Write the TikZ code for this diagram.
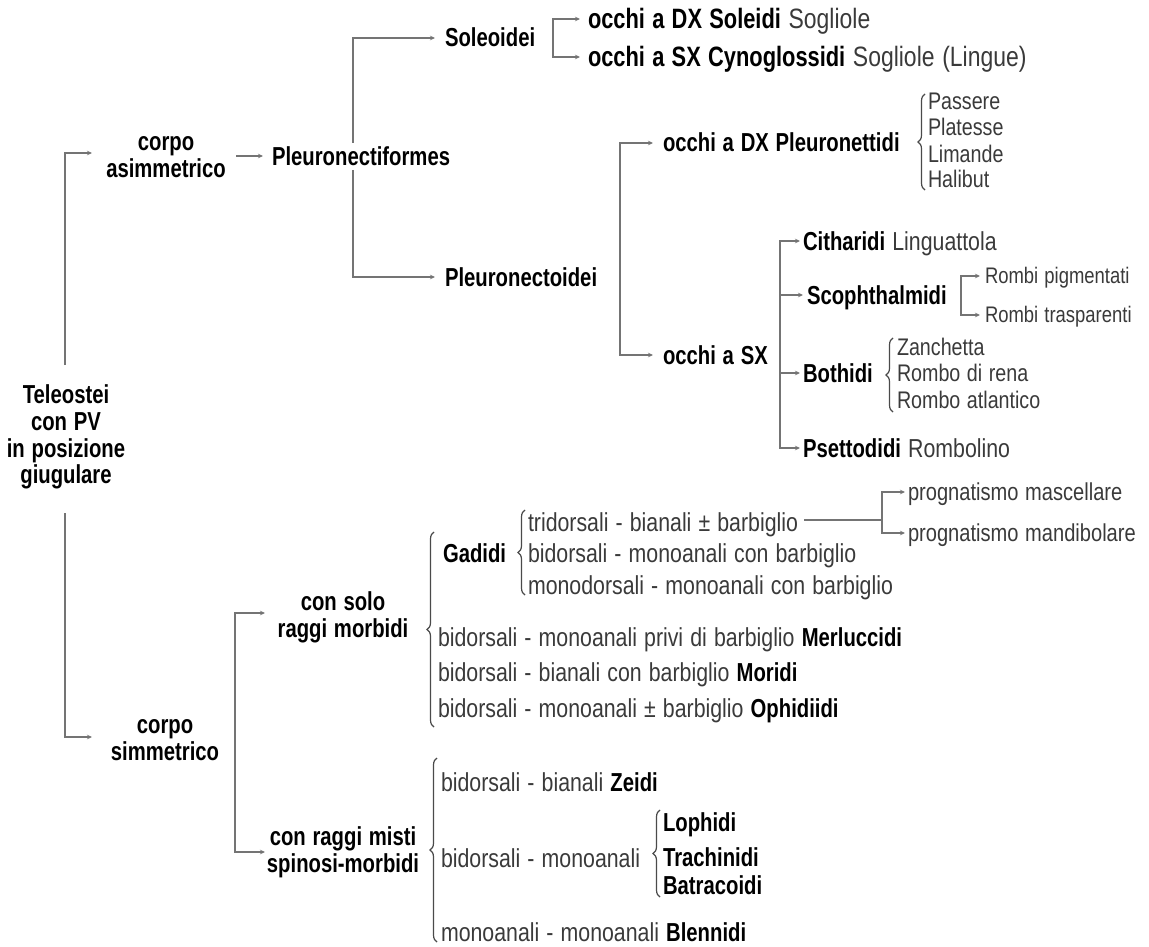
\documentclass[tikz,border=0pt]{standalone}
\usepackage{fontspec}
\setmainfont{Liberation Sans}[FakeStretch=0.82, WordSpace=1.2,
  BoldFeatures={FakeStretch=0.78}]
\usetikzlibrary{arrows.meta,decorations.pathreplacing}
\definecolor{linegray}{HTML}{747474}
\definecolor{bracegray}{HTML}{4A4A4A}
\definecolor{txtgray}{HTML}{3A3A3A}
\newcommand\taxon[1]{{\bfseries\color{black}#1}}
\begin{document}
\begin{tikzpicture}[x=1pt,y=-1pt,
  every node/.style={inner sep=0pt, outer sep=0pt},
  txt/.style={anchor=west, text height=18pt, text depth=0pt, text=txtgray,
              font=\fontsize{26}{28}\selectfont},
  big/.style={txt, text height=19pt, font=\fontsize{28}{30}\selectfont},
  mid/.style={txt, text height=17pt, font=\fontsize{24.5}{26}\selectfont},
  small/.style={txt, text height=16pt, font=\fontsize{24}{26}\selectfont},
  tiny/.style={txt, text height=15pt, font=\fontsize{22.5}{24}\selectfont},
  hd/.style={txt, text=black, font=\fontsize{26}{28}\selectfont\bfseries},
  blk/.style={align=center, text=black, font=\fontsize{26}{26.7}\selectfont\bfseries},
  link/.style={draw=linegray, line width=1.3pt, -{Stealth[length=5pt,width=4.5pt]}},
  bar/.style={draw=linegray, line width=1.3pt},
  curly/.style={draw=bracegray, line width=1.2pt, decorate,
                decoration={brace, amplitude=#1}},
  curly/.default=7pt,
]
\useasboundingbox (0,0) rectangle (1149,947);

% ---------- root ----------
\node[blk] (root) at (66,437) {Teleostei\\con PV\\in posizione\\giugulare};
\coordinate (rootUp) at (65,365);
\coordinate (rootDn) at (65,513);

% ---------- asymmetric body ----------
\node[blk] (asym) at (166,157) {corpo\\asimmetrico};
\coordinate (asymIn) at (92,153);
\draw[link] (rootUp) |- (asymIn);

\node[hd] (pf) at (272,156) {Pleuronectiformes};
\draw[link] (236,156) -- ([xshift=-9pt]pf.west);

\node[hd] (sol) at (445,38) {Soleoidei};
\node[hd] (pno) at (445,277) {Pleuronectoidei};
\coordinate (pfUp) at (353,143);
\coordinate (pfDn) at (353,170);
\draw[link] (pfUp) |- ([xshift=-10pt]sol.west);
\draw[link] (pfDn) |- ([xshift=-10pt]pno.west);

% Soleoidei
\node[big] (sdx) at (588,19) {\taxon{occhi a DX Soleidi} Sogliole};
\node[big] (ssx) at (588,57) {\taxon{occhi a SX Cynoglossidi} Sogliole (Lingue)};
\coordinate (solBr) at (553,38);
\draw[link] (solBr) |- ([xshift=-8pt]sdx.west);
\draw[link] (solBr) |- ([xshift=-8pt]ssx.west);

% Pleuronectoidei
\node[hd] (odx) at (663,143) {occhi a DX Pleuronettidi};
\node[hd] (osx) at (663,355) {occhi a SX};
\coordinate (pnoBr) at (620,250);
\draw[link] (pnoBr) |- ([xshift=-10pt]odx.west);
\draw[link] (pnoBr) |- ([xshift=-10pt]osx.west);

\draw[curly] (925,190) -- (925,94);
\node[small] (pas) at (928,102) {Passere};
\node[small] (pla) at (928,128) {Platesse};
\node[small] (lim) at (928,155) {Limande};
\node[small] (hal) at (928,180) {Halibut};

% occhi a SX
\node[txt] (cit) at (803,241) {\taxon{Citharidi} Linguattola};
\node[hd] (sco) at (807,295) {Scophthalmidi};
\node[hd] (bot) at (803,373) {Bothidi};
\node[txt] (pse) at (803,448) {\taxon{Psettodidi} Rombolino};
\coordinate (osxBr) at (780,355);
\draw[link] (osxBr) |- ([xshift=-3pt]cit.west);
\draw[link] (osxBr) |- ([xshift=-4pt]sco.west);
\draw[link] (osxBr) |- ([xshift=-3pt]bot.west);
\draw[link] (osxBr) |- ([xshift=-3pt]pse.west);

\node[tiny] (rpi) at (985,276) {Rombi pigmentati};
\node[tiny] (rtr) at (985,315) {Rombi trasparenti};
\coordinate (scoBr) at (961,296);
\draw[link] (scoBr) |- ([xshift=-5pt]rpi.west);
\draw[link] (scoBr) |- ([xshift=-5pt]rtr.west);

\draw[curly] (893,412) -- (893,338);
\node[small] (zan) at (897,347) {Zanchetta};
\node[small] (rre) at (897,373) {Rombo di rena};
\node[small] (rat) at (897,400) {Rombo atlantico};

% ---------- symmetric body ----------
\node[blk] (simm) at (165,740) {corpo\\simmetrico};
\coordinate (simmIn) at (92,737);
\draw[link] (rootDn) |- (simmIn);

\node[blk] (solo) at (343,617) {con solo\\raggi morbidi};
\node[blk] (misti) at (343,852) {con raggi misti\\spinosi-morbidi};
\coordinate (simmBr) at (235,740);
\draw[link] (simmBr) |- (265,613);
\draw[link] (simmBr) |- (265,852);

% soft rays only
\draw[curly] (434,727) -- (434,532);
\node[hd] (gad) at (443,553) {Gadidi};
\draw[curly] (525,595) -- (525,510);
\node[txt] (tri) at (528,522) {tridorsali - bianali ± barbiglio};
\node[txt] (bmc) at (528,553) {bidorsali - monoanali con barbiglio};
\node[txt] (mmc) at (528,585) {monodorsali - monoanali con barbiglio};

\node[mid] (pma) at (908,492) {prognatismo mascellare};
\node[mid] (pmd) at (908,533) {prognatismo mandibolare};
\coordinate (prgBr) at (882,520);
\draw[bar] ([xshift=6pt]tri.east |- prgBr) -- (prgBr);
\draw[link] (prgBr) |- ([xshift=-3pt]pma.west);
\draw[link] (prgBr) |- ([xshift=-3pt]pmd.west);

\node[txt] (mer) at (438,637) {bidorsali - monoanali privi di barbiglio \taxon{Merluccidi}};
\node[txt] (mor) at (438,672) {bidorsali - bianali con barbiglio \taxon{Moridi}};
\node[txt] (oph) at (438,708) {bidorsali - monoanali ± barbiglio \taxon{Ophidiidi}};

% mixed spiny-soft rays
\draw[curly] (437,942) -- (437,758);
\node[txt] (zei) at (441,782) {bidorsali - bianali \taxon{Zeidi}};
\node[txt] (bmo) at (441,858) {bidorsali - monoanali};
\draw[curly] (660,897) -- (660,810);
\node[hd] (lop) at (663,822) {Lophidi};
\node[hd] (tra) at (663,857) {Trachinidi};
\node[hd] (bat) at (663,885) {Batracoidi};
\node[txt] (ble) at (441,932) {monoanali - monoanali \taxon{Blennidi}};
\end{tikzpicture}
\end{document}
